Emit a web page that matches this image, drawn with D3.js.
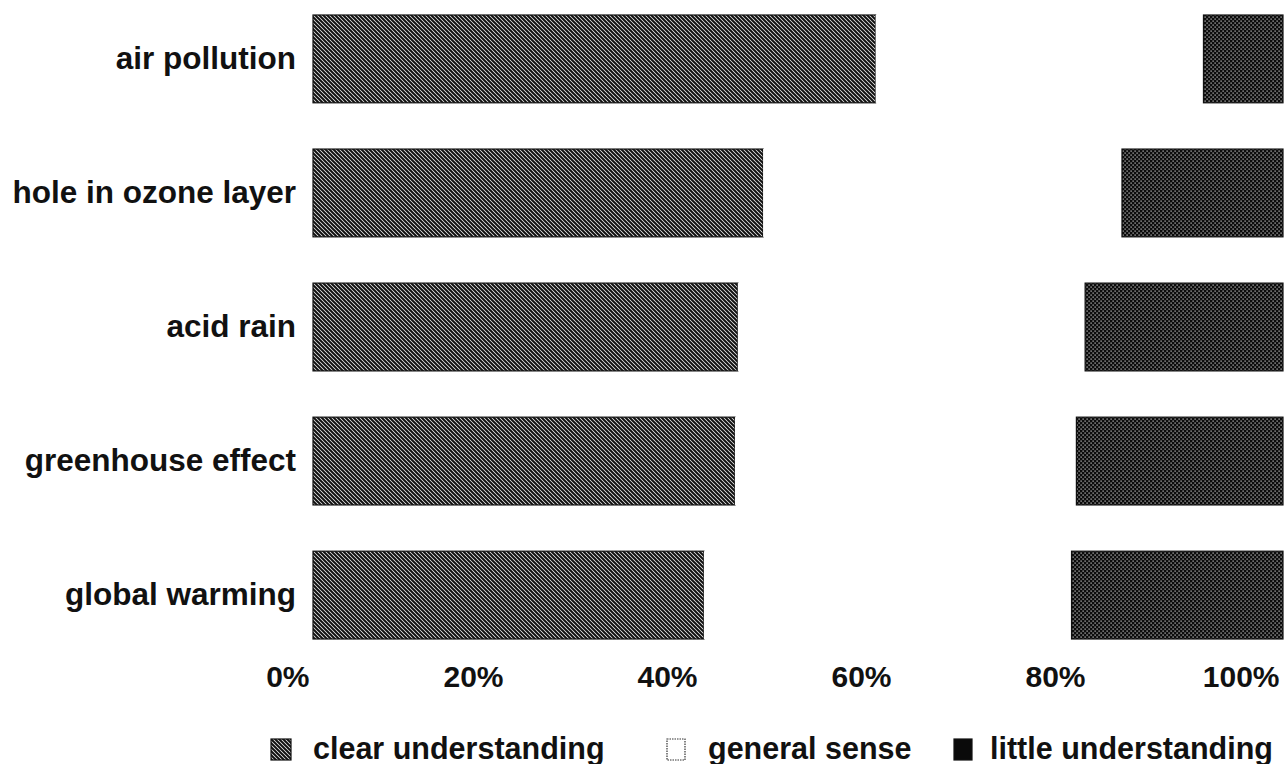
<!DOCTYPE html>
<html>
<head>
<meta charset="utf-8">
<script src="https://cdn.jsdelivr.net/npm/d3@7"></script>
<style>
  html, body { margin: 0; padding: 0; background: #fff; }
  svg { display: block; }
  text { font-family: "Liberation Sans", Arial, Helvetica, sans-serif; font-weight: bold; fill: #111; }
</style>
</head>
<body>
<svg id="chart" width="1285" height="764"></svg>
<script>
const categories = ["air pollution", "hole in ozone layer", "acid rain", "greenhouse effect", "global warming"];
const clearValues = [58.0, 46.4, 43.8, 43.5, 40.3];
const generalValues = [33.8, 37.0, 35.8, 35.2, 37.9];
const littleValues = [8.2, 16.6, 20.4, 21.3, 21.8];
const seriesKeys = ["clear", "general", "little"];
const seriesNames = ["clear understanding", "general sense", "little understanding"];
const tickValues = [0, 20, 40, 60, 80, 100];

const rows = categories.map((c, i) => ({
  category: c, clear: clearValues[i], general: generalValues[i], little: littleValues[i]
}));

const svg = d3.select("#chart");

// patterns
const defs = svg.append("defs");
const hatch = defs.append("pattern").attr("id", "hatch")
  .attr("patternUnits", "userSpaceOnUse").attr("width", 4).attr("height", 4);
hatch.append("rect").attr("width", 4).attr("height", 4).attr("fill", "#f0f0f0");
hatch.append("path").attr("d", "M-1,-1 L5,5 M3,-1 L5,1 M-1,3 L1,5")
  .attr("stroke", "#111").attr("stroke-width", 2.0);

const dots = defs.append("pattern").attr("id", "dots")
  .attr("patternUnits", "userSpaceOnUse").attr("width", 4).attr("height", 4);
dots.append("rect").attr("width", 4).attr("height", 4).attr("fill", "#0c0c0c");
dots.append("rect").attr("x", 0.5).attr("y", 0.5).attr("width", 1.2).attr("height", 1.2).attr("fill", "#d0d0d0");
dots.append("rect").attr("x", 2.5).attr("y", 2.5).attr("width", 1.2).attr("height", 1.2).attr("fill", "#d0d0d0");

const fills = { clear: "url(#hatch)", general: "#ffffff", little: "url(#dots)" };
const strokes = { clear: "#111", general: "none", little: "#111" };

const x = d3.scaleLinear().domain([0, 100]).range([313, 1283]);
const y = d3.scaleBand().domain(categories).range([15, 639]).paddingInner(0.345).paddingOuter(0);

const stacked = d3.stack().keys(seriesKeys)(rows);

const g = svg.append("g");
g.selectAll("g.series").data(stacked).join("g").attr("class", "series")
  .each(function(s) {
    d3.select(this).selectAll("rect").data(s).join("rect")
      .attr("x", d => x(d[0]))
      .attr("y", d => y(d.data.category))
      .attr("width", d => x(d[1]) - x(d[0]))
      .attr("height", y.bandwidth())
      .attr("fill", fills[s.key])
      .attr("stroke", strokes[s.key])
      .attr("stroke-width", 1.2);
  });

// category labels
const yAxis = d3.axisLeft(y).tickSize(0).tickPadding(0);
const yg = svg.append("g").attr("transform", `translate(${x(0) - 17},0)`).call(yAxis);
yg.select(".domain").remove();
yg.selectAll("text")
  .attr("x", 0).attr("dy", "0.31em")
  .style("font-size", "31.5px").style("font-family", "'Liberation Sans', Arial, sans-serif")
  .style("font-weight", "bold").attr("fill", "#111");

// x axis tick labels
const xAxis = d3.axisBottom(x).tickValues(tickValues).tickFormat(d => d + "%").tickSize(0).tickPadding(0);
const xg = svg.append("g").attr("transform", "translate(0,687)").call(xAxis);
xg.select(".domain").remove();
xg.selectAll("text")
  .attr("y", 0).attr("dy", 0).attr("dx", -4)
  .attr("text-anchor", "end")
  .style("font-size", "30px").style("font-family", "'Liberation Sans', Arial, sans-serif")
  .style("font-weight", "bold").attr("fill", "#111");

// legend
const legendItems = [
  { key: "clear", name: seriesNames[0], sx: 271, sw: 20, tx: 313 },
  { key: "general", name: seriesNames[1], sx: 667, sw: 18, tx: 708 },
  { key: "little", name: seriesNames[2], sx: 954, sw: 18, tx: 990 }
];
const lg = svg.append("g");
legendItems.forEach(it => {
  lg.append("rect").attr("x", it.sx).attr("y", 739).attr("width", it.sw).attr("height", 21)
    .attr("fill", it.key === "little" ? "#0a0a0a" : fills[it.key])
    .attr("stroke", it.key === "general" ? "#333" : "#111")
    .attr("stroke-width", 1.2)
    .attr("stroke-dasharray", it.key === "general" ? "1.5,1" : null);
  lg.append("text").attr("x", it.tx).attr("y", 759)
    .style("font-size", "30.5px").text(it.name);
});
</script>
</body>
</html>
